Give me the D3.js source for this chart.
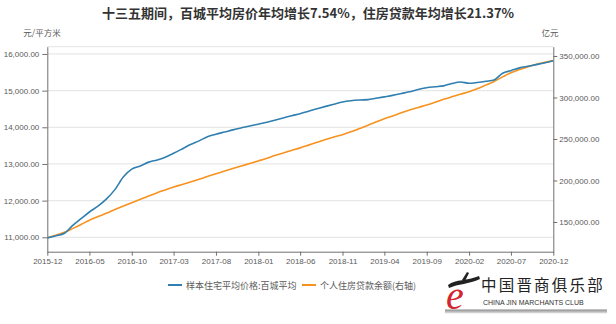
<!DOCTYPE html>
<html><head><meta charset="utf-8">
<script src="https://cdn.jsdelivr.net/npm/d3@7"></script>
<style>
html,body{margin:0;padding:0;background:#fff;}
svg{display:block;}
text{font-family:"Liberation Sans","Noto Sans CJK SC",sans-serif;}
.cjk{font-family:"Noto Sans CJK SC","Liberation Sans",sans-serif;}
</style></head>
<body><svg id="c" width="616" height="324"></svg>
<script>
// ---- data ----
const startMonth = "2015-12";
const priceValues = [10984,11040,11110,11320,11510,11690,11850,12040,12300,12650,
  12860,12945,13050,13110,13190,13290,13410,13530,13630,13740,
  13810,13870,13930,13985,14035,14085,14135,14190,14255,14315,
  14370,14440,14505,14570,14630,14690,14725,14745,14755,14790,
  14830,14870,14920,14970,15030,15080,15105,15130,15195,15235,
  15200,15220,15255,15290,15475,15545,15620,15665,15710,15760,15817];
const loanValues = [131000,134000,137600,142000,147000,152200,156500,160500,165000,169300,
  173300,177300,181300,185300,188900,192200,195200,198200,201400,204800,
  208000,211400,214500,217500,220500,223600,226800,230000,233200,236200,
  239300,242600,246000,249300,252300,255200,258600,262600,266600,270400,
  274300,277800,281500,284800,288000,291000,294300,297800,301000,304000,
  307000,310500,314900,319300,324800,329800,333600,337200,340000,342300,344400];
const xTickLabels = ["2015-12","2016-05","2016-10","2017-03","2017-08","2018-01","2018-06",
  "2018-11","2019-04","2019-09","2020-02","2020-07","2020-12"];
const leftTicks = [11000,12000,13000,14000,15000,16000];
const rightTicks = [150000,200000,250000,300000,350000];
const seriesNames = ["样本住宅平均价格:百城平均","个人住房贷款余额(右轴)"];
const titleText = "十三五期间，百城平均房价年均增长7.54%，住房贷款年均增长21.37%";
const leftUnit = "元/平方米", rightUnit = "亿元";

// ---- setup ----
const parse = d3.timeParse("%Y-%m");
const fmtM = d3.timeFormat("%Y-%m");
const t0 = parse(startMonth);
const dates = priceValues.map((_, i) => d3.timeMonth.offset(t0, i));
const svg = d3.select("#c");
const L = 47.3, R = 553.3, T = 46.7, B = 251.7;
const x = d3.scaleTime().domain([dates[0], dates[dates.length-1]]).range([L, R]);
const yL = d3.scaleLinear().domain([10607, 16198]).range([B, T]);
const yR = d3.scaleLinear().domain([114200, 361200]).range([B, T]);
const blue = "#2f7fb0", orange = "#f7921e", axisCol = "#707070", txtCol = "#5a5a5a";

// gridlines
svg.append("line").attr("x1", L).attr("x2", R).attr("y1", T).attr("y2", T)
  .attr("stroke", "#e4e4e4").attr("stroke-width", 1);
svg.append("g").selectAll("line").data(leftTicks).join("line")
  .attr("x1", L).attr("x2", R).attr("y1", d => yL(d)).attr("y2", d => yL(d))
  .attr("stroke", "#e8e8e8").attr("stroke-width", 1.2);

// axes
function styleAxis(g){
  g.selectAll("path,line").attr("stroke", axisCol);
  g.selectAll("text").attr("fill", txtCol).style("font-size", "8px");
}
const fmt2 = d3.format(",.2f");
svg.append("g").attr("transform", `translate(${L},0)`)
  .call(d3.axisLeft(yL).tickValues(leftTicks).tickFormat(fmt2).tickSize(5).tickPadding(3).tickSizeOuter(0))
  .call(styleAxis);
svg.append("g").attr("transform", `translate(${R},0)`)
  .call(d3.axisRight(yR).tickValues(rightTicks).tickFormat(fmt2).tickSize(4).tickPadding(2).tickSizeOuter(0))
  .call(styleAxis);
svg.append("g").attr("transform", `translate(0,${B})`)
  .call(d3.axisBottom(x).tickValues(xTickLabels.map(parse)).tickFormat(fmtM).tickSize(4).tickPadding(3).tickSizeOuter(0))
  .call(styleAxis);

// lines
const lineL = d3.line().x((d, i) => x(dates[i])).y(d => yL(d)).curve(d3.curveMonotoneX);
const lineR = d3.line().x((d, i) => x(dates[i])).y(d => yR(d)).curve(d3.curveMonotoneX);
svg.append("path").datum(loanValues).attr("d", lineR).attr("fill", "none")
  .attr("stroke", orange).attr("stroke-width", 1.6);
svg.append("path").datum(priceValues).attr("d", lineL).attr("fill", "none")
  .attr("stroke", blue).attr("stroke-width", 1.6);

// title & units
svg.append("text").attr("class", "cjk").attr("x", 308).attr("y", 18).attr("text-anchor", "middle")
  .attr("fill", "#333").style("font-size", "13px").style("font-weight", "bold").text(titleText);
svg.append("text").attr("class", "cjk").attr("x", 42).attr("y", 36).attr("text-anchor", "middle")
  .attr("fill", txtCol).style("font-size", "8.5px").text(leftUnit);
svg.append("text").attr("class", "cjk").attr("x", 550).attr("y", 36).attr("text-anchor", "middle")
  .attr("fill", txtCol).style("font-size", "8.5px").text(rightUnit);

// legend
const leg = svg.append("g");
const legItems = [{n: seriesNames[0], c: blue, x: 168}, {n: seriesNames[1], c: orange, x: 302}];
legItems.forEach(it => {
  leg.append("line").attr("x1", it.x).attr("x2", it.x + 14).attr("y1", 285).attr("y2", 285)
    .attr("stroke", it.c).attr("stroke-width", 2);
  leg.append("text").attr("class", "cjk").attr("x", it.x + 18).attr("y", 288.5)
    .attr("fill", txtCol).style("font-size", "9px").text(it.n);
});

// logo
const logo = svg.append("g");
const grad = svg.append("defs").append("linearGradient").attr("id", "sh").attr("x1", 0).attr("x2", 0).attr("y1", 0).attr("y2", 1);
grad.append("stop").attr("offset", 0).attr("stop-color", "#8a8a8a");
grad.append("stop").attr("offset", 1).attr("stop-color", "#e6e6e6");
logo.append("rect").attr("x", 445).attr("y", 309.5).attr("width", 162).attr("height", 4).attr("fill", "url(#sh)");
logo.append("text").attr("x", 446).attr("y", 309).attr("fill", "#d32630")
  .style("font-family", "'Liberation Serif',serif").style("font-style", "italic").style("font-size", "40px").text("e");
logo.append("path").attr("d", "M448,285 C456,279 467,281 479,276 L480,279 C469,284 458,284 449,288 Z").attr("fill", "#222");
logo.append("path").attr("d", "M462,280 L467,272 L469,273 L465,281 Z").attr("fill", "#222");
logo.append("text").attr("class", "cjk").attr("x", 481).attr("y", 291).attr("fill", "#222")
  .style("font-size", "15.5px").style("letter-spacing", "2.2px").text("中国晋商俱乐部");
logo.append("text").attr("x", 483).attr("y", 305).attr("fill", "#333")
  .style("font-size", "7px").text("CHINA JIN MARCHANTS CLUB");
</script></body></html>
